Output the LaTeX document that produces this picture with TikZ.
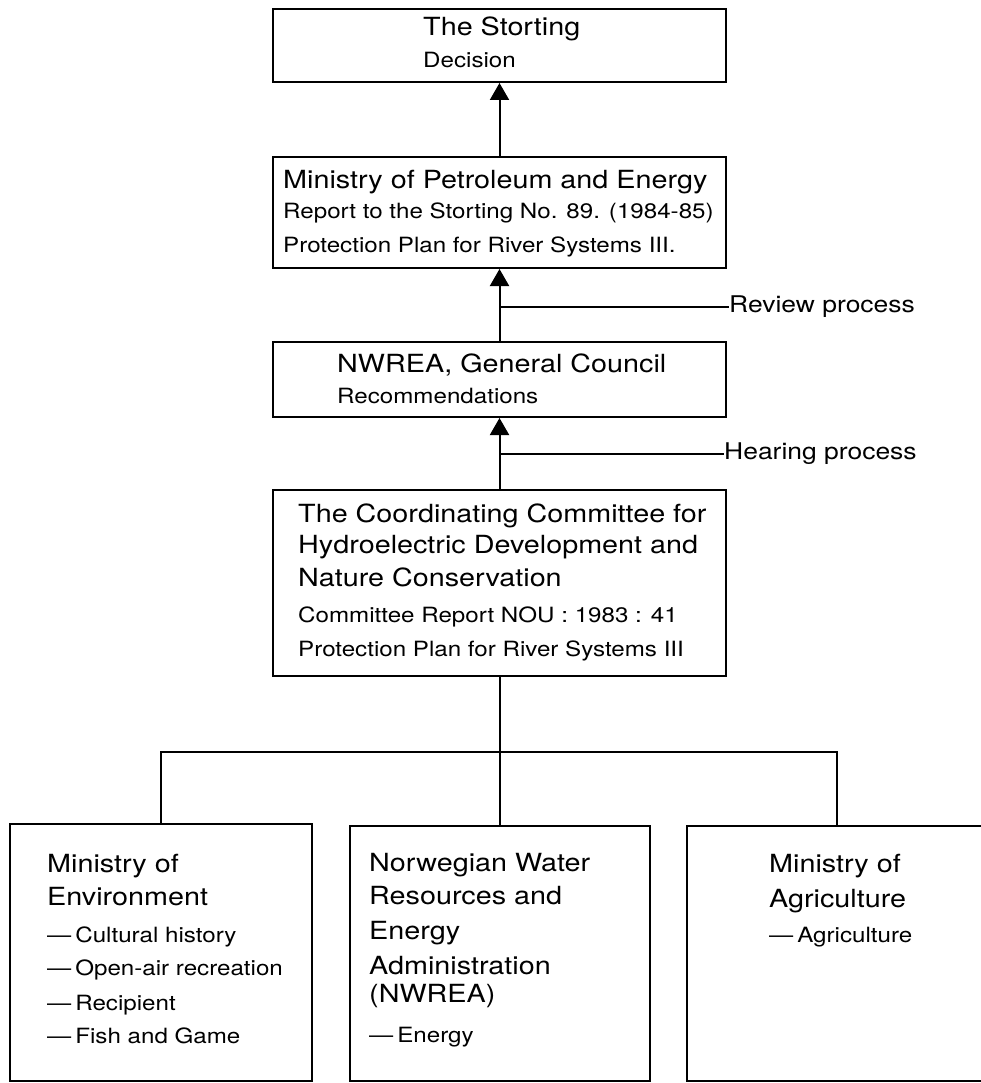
\documentclass[tikz,border=0pt]{standalone}
\usepackage{fontspec}
\setmainfont{TeX Gyre Heros}[FakeStretch=1.15]
\usetikzlibrary{arrows.meta}
\newcommand{\sm}{\fontsize{21}{33}\selectfont}
\tikzset{
  box/.style={draw, line width=2pt, inner sep=0pt},
  txt/.style={inner sep=0pt, anchor=north west, align=left, font=\fontsize{25}{33}\selectfont},
  lbl/.style={inner sep=0pt, anchor=west, font=\fontsize{23}{28}\selectfont},
  arr/.style={line width=2pt, -{Triangle[width=19pt,length=17pt]}},
  link/.style={line width=2pt}
}
\begin{document}
\begin{tikzpicture}[x=1pt,y=-1pt]
\useasboundingbox (0,0) rectangle (981,1083);
\node[box, minimum width=453, minimum height=73] (storting) at (499.5,45.5) {};
\node[box, minimum width=453, minimum height=111] (mpe) at (499.5,212.5) {};
\node[box, minimum width=453, minimum height=75] (nwrea) at (499.5,379.5) {};
\node[box, minimum width=453, minimum height=186] (coord) at (499.5,583) {};
\node[box, minimum width=302, minimum height=257] (env) at (161,952.5) {};
\node[box, minimum width=300, minimum height=255] (nve) at (499.5,953.5) {};
\node[box, minimum width=300, minimum height=255] (agri) at (837,953.5) {};
\node[txt] (stortingtxt) at (423,16.5) {The Storting\\[-1pt]\sm Decision};
\node[txt] (mpetxt) at (283,169.5) {Ministry of Petroleum and Energy\\[-3pt]\sm Report to the Storting No. 89. (1984-85)\\[1pt]\sm Protection Plan for River Systems III.};
\node[txt] (nwreatxt) at (337,353.5) {NWREA, General Council\\[-2pt]\sm Recommendations};
\node[txt] (coordtxt) at (298,503.5) {The Coordinating Committee for\\[-2pt]Hydroelectric Development and\\Nature Conservation\\[3pt]\sm Committee Report NOU : 1983 : 41\\[1pt]\sm Protection Plan for River Systems III};
\node[txt] (envtxt) at (47,853.5) {Ministry of\\Environment\\[4pt]\sm \textemdash\hspace{4pt}Cultural history\\\sm \textemdash\hspace{4pt}Open-air recreation\\[2pt]\sm \textemdash\hspace{4pt}Recipient\\\sm \textemdash\hspace{4pt}Fish and Game};
\node[txt] (nvetxt) at (369,853.5) {Norwegian Water\\Resources and\\[2pt]Energy\\[2pt]Administration\\[-5pt](NWREA)\\[7pt]\sm \textemdash\hspace{4pt}Energy};
\node[txt] (agritxt) at (769,853.5) {Ministry of\\[2pt]Agriculture\\[2pt]\sm \textemdash\hspace{4pt}Agriculture};
\node[lbl] (review) at (729,307) {Review process};
\node[lbl] (hearing) at (724,454) {Hearing process};
\coordinate (rev) at (499.5,307);
\coordinate (hear) at (499.5,454);
\coordinate (split) at (499.5,752);
\draw[arr] (mpe.north) -- (storting.south);
\draw[arr] (nwrea.north) -- (mpe.south);
\draw[arr] (coord.north) -- (nwrea.south);
\draw[link] (rev) -- (review.west);
\draw[link] (hear) -- (hearing.west);
\draw[link] (coord.south) -- (split);
\draw[link] (env.north) |- (split) -| (agri.north);
\draw[link] (split) -- (nve.north);
\end{tikzpicture}
\end{document}
